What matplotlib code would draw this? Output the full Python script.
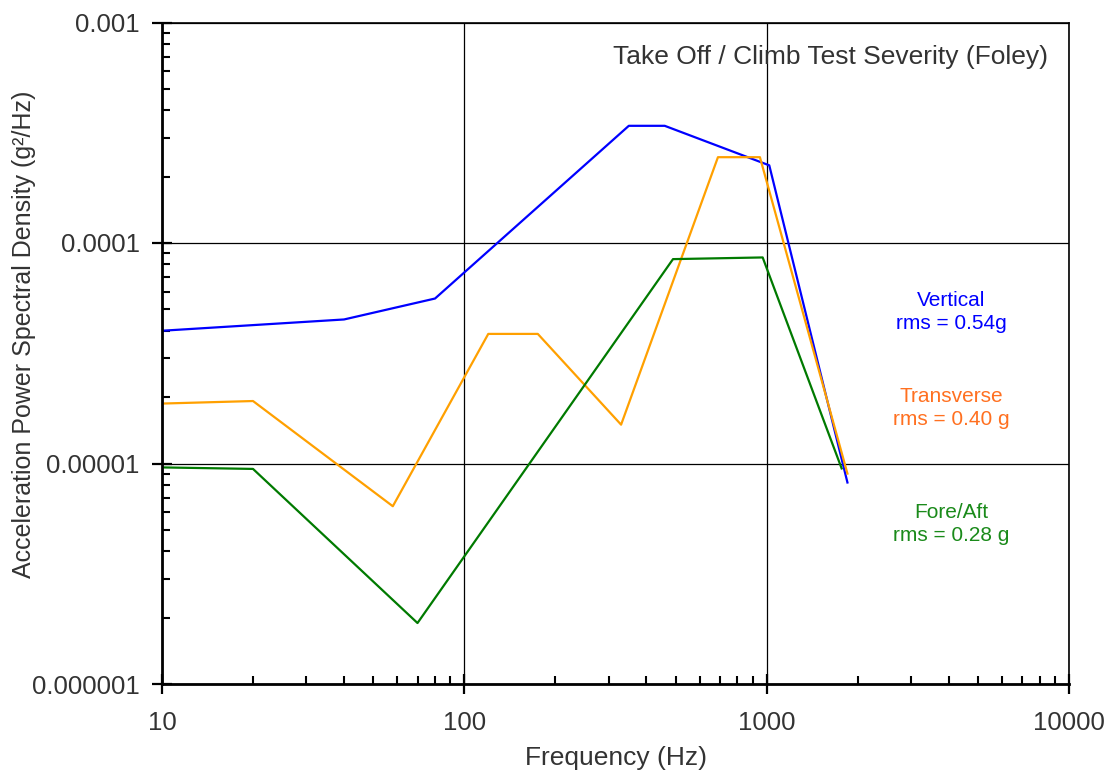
import numpy as np
import matplotlib.pyplot as plt
from matplotlib.ticker import LogLocator, FixedLocator, FixedFormatter, NullFormatter

plt.rcParams['font.family'] = ['Liberation Sans', 'DejaVu Sans']

# Vertical
vert_f = [10, 40, 80, 350, 460, 1020, 1850]
vert_psd = [4.0e-5, 4.5e-5, 5.6e-5, 3.4e-4, 3.4e-4, 2.25e-4, 8.2e-6]
# Transverse
trans_f = [10, 20, 58, 120, 175, 330, 690, 950, 1850]
trans_psd = [1.87e-5, 1.92e-5, 6.4e-6, 3.87e-5, 3.87e-5, 1.5e-5, 2.45e-4, 2.45e-4, 9.0e-6]
# Fore/Aft
fore_f = [10, 20, 70, 490, 970, 1770]
fore_psd = [9.6e-6, 9.45e-6, 1.89e-6, 8.45e-5, 8.6e-5, 9.5e-6]

x_ticks = [10, 100, 1000, 10000]
x_labels = ['10', '100', '1000', '10000']
y_ticks = [1e-6, 1e-5, 1e-4, 1e-3]
y_labels = ['0.000001', '0.00001', '0.0001', '0.001']

fig = plt.figure(figsize=(11.14, 7.78), dpi=100)
ax = fig.add_axes([162 / 1114, 1 - 684 / 778, 907 / 1114, 661.5 / 778])

ax.plot(vert_f, vert_psd, color='#0000FF', lw=1.6)
ax.plot(trans_f, trans_psd, color='#FFA000', lw=1.6)
ax.plot(fore_f, fore_psd, color='#007A00', lw=1.6)

ax.set_xscale('log')
ax.set_yscale('log')
ax.set_xlim(10, 10000)
ax.set_ylim(1e-6, 1e-3)

ax.xaxis.set_major_locator(FixedLocator(x_ticks))
ax.xaxis.set_major_formatter(FixedFormatter(x_labels))
ax.yaxis.set_major_locator(FixedLocator(y_ticks))
ax.yaxis.set_major_formatter(FixedFormatter(y_labels))
ax.xaxis.set_minor_locator(LogLocator(base=10, subs=np.arange(2, 10), numticks=20))
ax.yaxis.set_minor_locator(LogLocator(base=10, subs=np.arange(2, 10), numticks=20))
ax.xaxis.set_minor_formatter(NullFormatter())
ax.yaxis.set_minor_formatter(NullFormatter())

ax.tick_params(which='major', direction='inout', length=14.4, width=1.6,
               labelsize=18.5, labelcolor='#333333')
ax.tick_params(axis='x', which='major', pad=12)
ax.tick_params(axis='y', which='major', pad=9)
ax.tick_params(which='minor', direction='in', length=6, width=1.5)
ax.tick_params(top=False, right=False, which='both')

ax.grid(True, which='major', color='black', lw=0.9)
for s in ['left', 'bottom']:
    ax.spines[s].set_linewidth(2)
for s in ['top', 'right']:
    ax.spines[s].set_linewidth(1.2)

fig.text(616 / 1114, 1 - 758 / 778, 'Frequency (Hz)', ha='center', va='center',
         fontsize=19, color='#333333')
fig.text(24 / 1114, 1 - 334 / 778, 'Acceleration Power Spectral Density (g²/Hz)',
         ha='center', va='center', rotation=90, fontsize=18, color='#333333')

ax.text(0.977, 0.948, 'Take Off / Climb Test Severity (Foley)', transform=ax.transAxes,
        ha='right', va='center', fontsize=19, color='#333333')

ax.text(0.870, 0.562, 'Vertical\nrms = 0.54g', transform=ax.transAxes,
        ha='center', va='center', fontsize=15, color='#0000FF', linespacing=1.25)
ax.text(0.870, 0.417, 'Transverse\nrms = 0.40 g', transform=ax.transAxes,
        ha='center', va='center', fontsize=15, color='#FF7020', linespacing=1.25)
ax.text(0.870, 0.242, 'Fore/Aft\nrms = 0.28 g', transform=ax.transAxes,
        ha='center', va='center', fontsize=15, color='#1A8A1A', linespacing=1.25)

fig.savefig('out.png', dpi=100)
